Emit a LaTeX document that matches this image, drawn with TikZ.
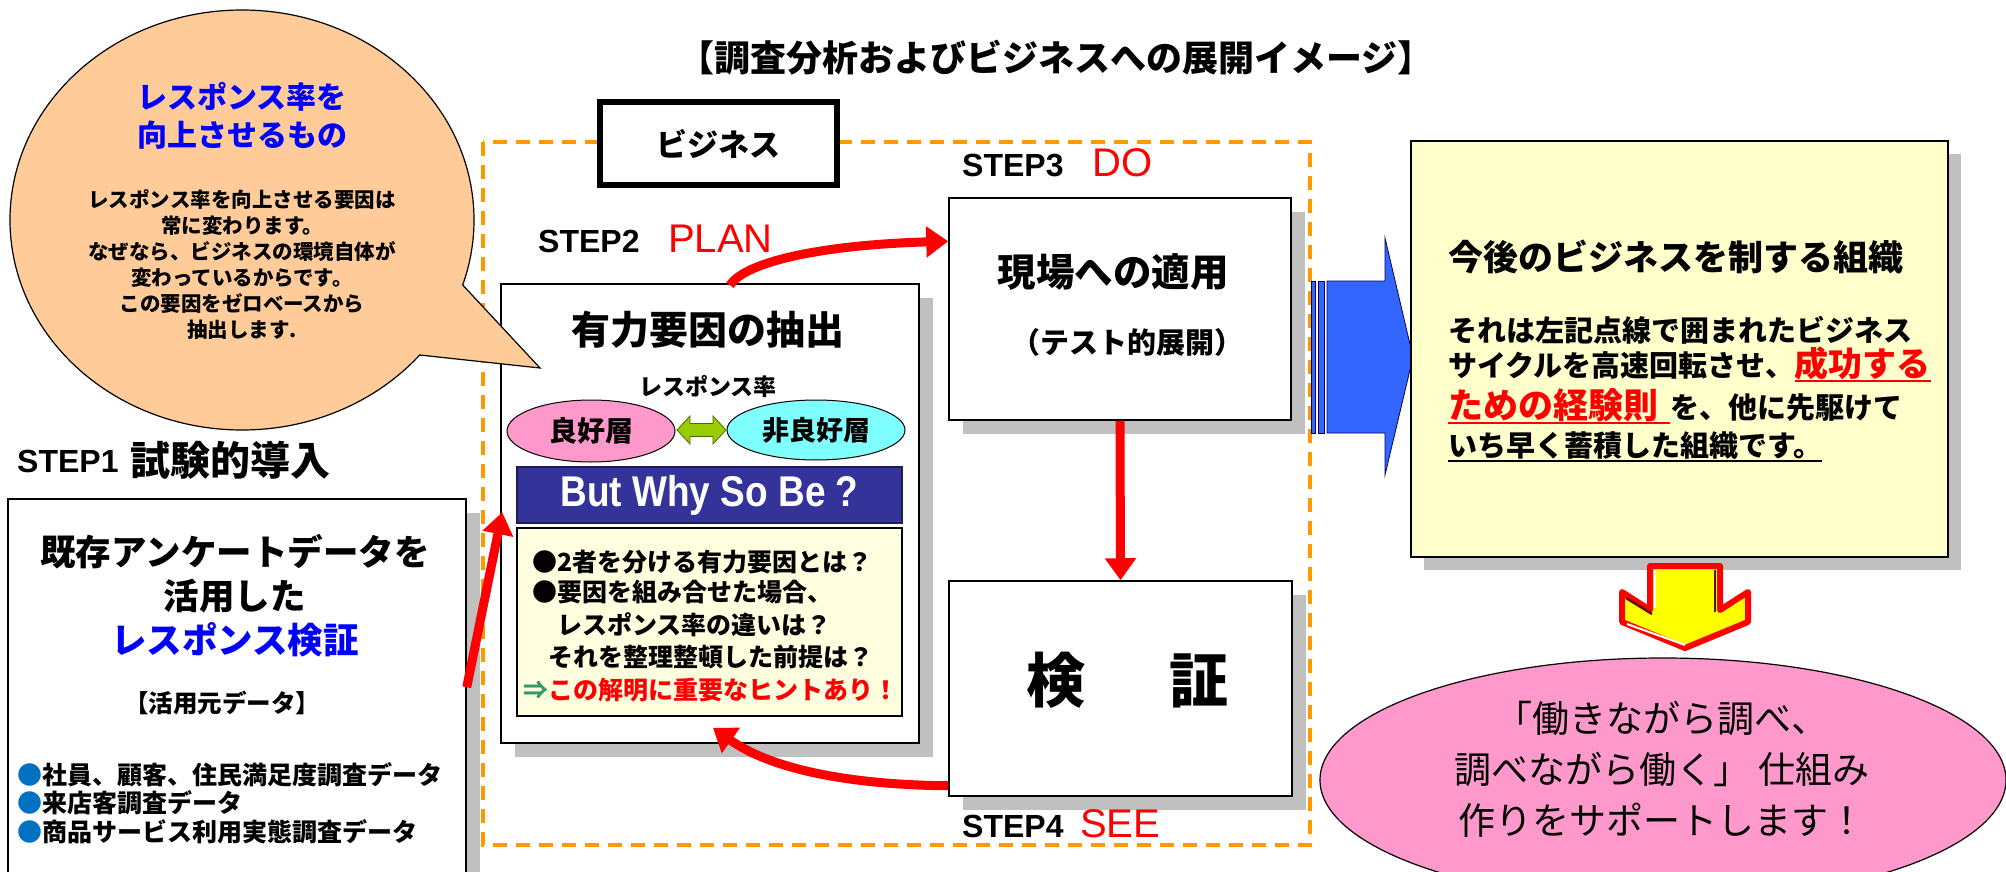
\documentclass[tikz,border=0pt]{standalone}
\usepackage{fontspec}
\setmainfont{Noto Sans CJK JP}
\newfontfamily\arialf{Liberation Sans}
\usetikzlibrary{arrows.meta,shapes.geometric,shadows,calc}
\definecolor{dashOr}{HTML}{FF9900}
\definecolor{bubbleF}{HTML}{FFCC99}
\definecolor{shadowG}{HTML}{C0C0C0}
\definecolor{pinkF}{HTML}{FF99CC}
\definecolor{cyanF}{HTML}{80FFFF}
\definecolor{limeF}{HTML}{99CC00}
\definecolor{limeD}{HTML}{4F6B00}
\definecolor{navyF}{HTML}{333399}
\definecolor{navyD}{HTML}{1E1E55}
\definecolor{paleY}{HTML}{FFFFE0}
\definecolor{lightY}{HTML}{FFFFCC}
\definecolor{blueA}{HTML}{3366FF}
\definecolor{blueD}{HTML}{00005A}
\definecolor{bulletB}{HTML}{0070C0}
\definecolor{pureB}{HTML}{0000FF}
\definecolor{pureR}{HTML}{FF0000}
\definecolor{greenA}{HTML}{339966}
\definecolor{yelA}{HTML}{FFFF00}
\definecolor{brownD}{HTML}{5A1400}
\newcommand\fsz[2]{\fontsize{#1}{#2}\selectfont}
\newcommand\myul[1]{\setbox0=\hbox{#1}\rlap{\rule[-5.5pt]{\wd0}{2pt}}\box0}
\begin{document}
\begin{tikzpicture}[x=1pt,y=-1pt,
  box/.style={rectangle,draw=black,line width=1.5pt,fill=white,inner sep=0pt},
  shad/.style={drop shadow={shadow xshift=14pt,shadow yshift=-14pt,fill=shadowG,opacity=1}},
  lbl/.style={inner sep=0pt,align=center},
  lline/.style={inner sep=0pt,anchor=base west},
  redarr/.style={draw=pureR,line width=9pt,-{Triangle[length=22pt,width=30pt]}},
  steplbl/.style={inner sep=0pt,anchor=base west,font=\arialf\bfseries\fsz{32}{32}},
  stepkey/.style={inner sep=0pt,anchor=base west,text=pureR,font=\arialf\fsz{40}{40}},
  blockarr/.style={draw=blueD,line width=0.8pt,fill=blueA}]
\useasboundingbox (0,0) rectangle (2006,872);

% dashed business frame
\draw[dashOr,line width=4pt,dash pattern=on 14pt off 9pt] (483,142) rectangle (1310,845);

% business label
\node[box,line width=5.5pt,minimum width=237pt,minimum height=83pt,font=\bfseries\fsz{31}{31}] (biz) at (718.5,143.5) {ビジネス};

% title
\node[lbl,font=\bfseries\fsz{36}{36}] (title) at (1056,58) {【調査分析およびビジネスへの展開イメージ】};

% STEP2 PLAN box
\node[box,shad,minimum width=418pt,minimum height=459pt] (plan) at (710,513.5) {};
\node[steplbl] (s2) at (538,252) {STEP2};
\node[stepkey] (s2k) at (668,252) {PLAN};
\node[lbl,font=\bfseries\fsz{39}{39}] (plant) at (708,330) {有力要因の抽出};
\node[lbl,font=\bfseries\fsz{23}{23}] (rr) at (708,387) {レスポンス率};
\node[ellipse,draw=black,line width=1pt,fill=pinkF,minimum width=168pt,minimum height=62pt,inner sep=0pt,font=\bfseries\fsz{28}{28}] (good) at (591,431) {良好層};
\node[ellipse,draw=black,line width=1pt,fill=cyanF,minimum width=178pt,minimum height=60pt,inner sep=0pt,font=\bfseries\fsz{27}{27}] (bad) at (816,430) {非良好層};
\draw[draw=limeD,line width=0.8pt,fill=limeF] (677,430) -- (690,416) -- (690,423.5) -- (713,423.5) -- (713,416) -- (726,430) -- (713,444) -- (713,436.5) -- (690,436.5) -- (690,444) -- cycle;
\node[rectangle,draw=navyD,line width=1.5pt,fill=navyF,minimum width=385pt,minimum height=56pt,inner sep=0pt,text=white] (why) at (709.5,495) {\scalebox{0.86}[1]{\arialf\bfseries\fsz{43}{43}But Why So Be ?}};
\node[rectangle,draw=black,line width=1.2pt,fill=paleY,minimum width=385pt,minimum height=188pt,inner sep=0pt] (sub) at (709.5,622) {};
\node[lline,font=\bfseries\fsz{25}{25}] (q1) at (532,571) {●2者を分ける有力要因とは？};
\node[lline,font=\bfseries\fsz{25}{25}] (q2) at (532,601) {●要因を組み合せた場合、};
\node[lline,font=\bfseries\fsz{25}{25}] (q3) at (557,634) {レスポンス率の違いは？};
\node[lline,font=\bfseries\fsz{25}{25}] (q4) at (548,666) {それを整理整頓した前提は？};
\node[lline,font=\bfseries\fsz{25}{25}] (q5) at (523,699) {\textcolor{greenA}{⇒}\textcolor{pureR}{この解明に重要なヒントあり！}};

% STEP3 DO box
\node[box,shad,minimum width=342pt,minimum height=222pt] (do) at (1120,309) {};
\node[steplbl] (s3) at (962,177) {STEP3};
\node[stepkey] (s3k) at (1092,177) {DO};
\node[lbl,font=\bfseries\fsz{38.5}{38.5}] (dot1) at (1113,272) {現場への適用};
\node[lbl,font=\bfseries\fsz{29}{29}] (dot2) at (1127,342) {（テスト的展開）};

% STEP4 SEE box
\node[box,shad,minimum width=343pt,minimum height=215pt] (see) at (1120.5,688.5) {};
\node[lbl,font=\bfseries\fsz{59}{59}] (seet) at (1127.5,680) {検\hspace{85pt}証};
\node[steplbl] (s4) at (962,837) {STEP4};
\node[stepkey] (s4k) at (1080,837) {SEE};

% STEP1 box
\node[box,shad,minimum width=458pt,minimum height=401pt] (s1box) at (237,699.5) {};
\node[steplbl] (s1) at (17,472) {STEP1};
\node[lline,font=\bfseries\fsz{40}{40}] (s1k) at (130,475) {試験的導入};
\node[lbl,font=\bfseries\fsz{35.5}{44}] (s1t) at (235,596) {既存アンケートデータを\\活用した\\\textcolor{pureB}{レスポンス検証}};
\node[lbl,font=\bfseries\fsz{24.5}{24.5}] (s1d) at (222,703) {【活用元データ】};
\node[inner sep=0pt,anchor=west,align=left,font=\bfseries\fsz{25}{28.5}] (s1l) at (17,803) {\textcolor{bulletB}{●}社員、顧客、住民満足度調査データ\\\textcolor{bulletB}{●}来店客調査データ\\\textcolor{bulletB}{●}商品サービス利用実態調査データ};

% speech bubble
\filldraw[draw=black,line width=1.2pt,fill=bubbleF] (242,220) ellipse [x radius=232,y radius=210];
\fill[bubbleF] (462.6,284.9) -- (540,368) -- (419.7,355) -- (430,300) -- cycle;
\draw[black,line width=1.2pt] (462.6,284.9) -- (540,368) -- (419.7,355);
\node[lbl,text=pureB,font=\bfseries\fsz{30}{38}] (bub1) at (242,116) {レスポンス率を\\向上させるもの};
\node[lbl,font=\bfseries\fsz{20.5}{26}] (bub2) at (242,265) {レスポンス率を向上させる要因は\\常に変わります。\\なぜなら、ビジネスの環境自体が\\変わっているからです。\\この要因をゼロベースから\\抽出します.};

% red cycle arrows
\draw[redarr] ([xshift=20pt,yshift=-2pt]plan.north) .. controls (745,262) and (820,245) .. ([yshift=-44pt]do.north west);
\draw[redarr] (do.south) -- (see.north);
\draw[redarr] ([yshift=11pt]see.south west) .. controls (860,785) and (775,772) .. ([xshift=3pt,yshift=16pt]plan.south);
\draw[redarr] ([yshift=-189pt]s1box.north east) -- ([xshift=2pt,yshift=-229pt]plan.north west);

% blue block arrow
\draw[blockarr] (1311,281) rectangle (1315,433);
\draw[blockarr] (1318,281) rectangle (1324,433);
\draw[blockarr] (1327,281) -- (1385,281) -- (1385,238) -- (1413,357) -- (1385,475) -- (1385,433) -- (1327,433) -- cycle;

% organisation box
\node[rectangle,draw=black,line width=1.5pt,fill=lightY,minimum width=537pt,minimum height=416pt,inner sep=0pt,drop shadow={shadow xshift=13pt,shadow yshift=-13pt,fill=shadowG,opacity=1}] (org) at (1679.5,349) {};
\node[lbl,font=\bfseries\fsz{35}{35}] (orgt) at (1676,257) {今後のビジネスを制する組織};
\node[lline,font=\bfseries\fsz{29}{29}] (o1) at (1448,341) {それは左記点線で囲まれたビジネス};
\node[lline,font=\bfseries\fsz{29}{29}] (o2) at (1448,376) {サイクルを高速回転させ、\textcolor{pureR}{\fsz{34}{34}\myul{成功する}}};
\node[lline,font=\bfseries\fsz{29}{29}] (o3) at (1448,418) {\textcolor{pureR}{\fsz{35}{35}\myul{ための経験則\hspace{12pt}}}を、他に先駆けて};
\node[lline,font=\bfseries\fsz{29}{29}] (o4) at (1448,456) {\myul{いち早く蓄積した組織です。}};

% yellow down arrow
\draw[draw=pureR,line width=6pt,line join=round,fill=yelA] (1650,566) -- (1720,566) -- (1720,610) -- (1748,592) -- (1748,622) -- (1685,648) -- (1622,622) -- (1622,592) -- (1650,610) -- cycle;
\draw[brownD,line width=2.5pt] (1715,570) -- (1715,612);
\draw[brownD,line width=2.5pt] (1626,598) -- (1652,614);
\draw[white,line width=2pt] (1655,570) -- (1655,608);
\draw[white,line width=2pt] (1627,624) -- (1685,645);

% goal ellipse
\node[ellipse,draw=black,line width=1.2pt,fill=pinkF,minimum width=686pt,minimum height=244pt,inner sep=0pt] (goal) at (1663,780) {};
\node[lbl,font=\fsz{37}{51}] (goalt) at (1662,769) {「働きながら調べ、\\調べながら働く」 仕組み\\作りをサポートします！};
\end{tikzpicture}
\end{document}
